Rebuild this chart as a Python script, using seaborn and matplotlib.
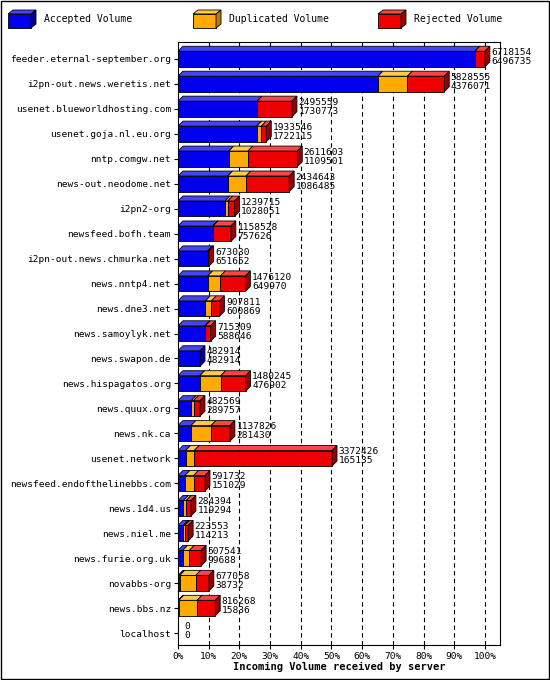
import numpy as np
import pandas as pd
import matplotlib.pyplot as plt
import seaborn as sns
from matplotlib.patches import Polygon, Rectangle

servers = ['feeder.eternal-september.org', 'i2pn-out.news.weretis.net', 'usenet.blueworldhosting.com',
           'usenet.goja.nl.eu.org', 'nntp.comgw.net', 'news-out.neodome.net', 'i2pn2-org',
           'newsfeed.bofh.team', 'i2pn-out.news.chmurka.net', 'news.nntp4.net', 'news.dne3.net',
           'news.samoylyk.net', 'news.swapon.de', 'news.hispagatos.org', 'news.quux.org', 'news.nk.ca',
           'usenet.network', 'newsfeed.endofthelinebbs.com', 'news.1d4.us', 'news.niel.me',
           'news.furie.org.uk', 'novabbs-org', 'news.bbs.nz', 'localhost']
total = [6718154, 5828555, 2495559, 1933546, 2611603, 2434643, 1239715, 1158528, 673030, 1476120,
         907811, 715309, 482914, 1480245, 482569, 1137826, 3372426, 591732, 284394, 223553,
         507541, 677058, 816268, 0]
accepted = [6496735, 4376071, 1730773, 1722115, 1109501, 1086485, 1028051, 757626, 651652, 649970,
            600869, 588646, 482914, 476902, 289757, 281430, 165135, 151029, 119294, 114213,
            99688, 38732, 15836, 0]
duplicated = [0, 645000, 0, 100000, 420000, 400000, 60000, 10000, 5000, 280000,
              130000, 10000, 0, 460000, 50000, 440000, 190000, 190000, 60000, 30000,
              150000, 350000, 400000, 0]

df = pd.DataFrame({'server': servers, 'total': total, 'accepted': accepted, 'duplicated': duplicated})
df['rejected'] = df['total'] - df['accepted'] - df['duplicated']
scale = 100.0 / df['total'].max()

front = {'accepted': '#0000ee', 'duplicated': '#ffaa00', 'rejected': '#ee0000'}
topc = {'accepted': '#4444ff', 'duplicated': '#ffcc44', 'rejected': '#ff4444'}
sidec = {'accepted': '#000099', 'duplicated': '#bb7700', 'rejected': '#990000'}
labels = {'accepted': 'Accepted Volume', 'duplicated': 'Duplicated Volume', 'rejected': 'Rejected Volume'}

plt.rcParams['font.family'] = 'DejaVu Sans Mono'
fig = plt.figure(figsize=(5.5, 6.8), dpi=100)
ax = fig.add_axes([178 / 550, 35 / 680, 322 / 550, 603 / 680])

h = 0.62
dx, dy = 1.6, 0.2
left = np.zeros(len(df))
for key in ['accepted', 'duplicated', 'rejected']:
    w = df[key].values * scale
    sns.barplot(x=w, y=np.arange(len(df)), orient='h', left=left, color=front[key], width=h,
                edgecolor='black', linewidth=0.6, ax=ax, native_scale=True, saturation=1)
    for i, (l, ww) in enumerate(zip(left, w)):
        if ww <= 0:
            continue
        yt = i - h / 2
        ax.add_patch(Polygon([(l, yt), (l + ww, yt), (l + ww + dx, yt - dy), (l + dx, yt - dy)],
                             closed=True, fc=topc[key], ec='black', lw=0.6, zorder=3))
    left = left + w
for i, l in enumerate(left):
    yt, yb = i - h / 2, i + h / 2
    if l > 0:
        ax.add_patch(Polygon([(l, yt), (l + dx, yt - dy), (l + dx, yb - dy), (l, yb)],
                             closed=True, fc=sidec['rejected'] if df['rejected'][i] > 0 else sidec['accepted'],
                             ec='black', lw=0.6, zorder=3))
    ax.text(l + dx + 0.5, i - 0.08, str(df['total'][i]), fontsize=6.8, va='bottom', ha='left')
    ax.text(l + dx + 0.5, i - 0.08, str(df['accepted'][i]), fontsize=6.8, va='top', ha='left')

for x in range(10, 101, 10):
    ax.axvline(x, color='black', ls=(0, (4, 3)), lw=0.8, zorder=0)
ax.set_xlim(0, 104.9)
ax.set_ylim(len(df) - 0.52, -0.68)
ax.set_yticks(range(len(df)))
ax.set_yticklabels(servers, fontsize=6.8)
ax.set_xticks(range(0, 101, 10))
ax.set_xticklabels([f'{x}%' for x in range(0, 101, 10)], fontsize=6.8)
ax.tick_params(length=3, pad=2)
ax.set_xlabel('Incoming Volume received by server', fontsize=7.5, fontweight='bold', labelpad=1)
ax.set_ylabel('')

# legend
for key, x0 in zip(['accepted', 'duplicated', 'rejected'], [8, 193, 378]):
    fx, fy, fw, fh = x0 / 550, 1 - 28 / 680, 28 / 550, 18 / 680
    fig.patches.append(Rectangle((fx, fy), fw - 5 / 550, fh - 4 / 680, transform=fig.transFigure,
                                 fc=front[key], ec='black', lw=0.6))
    fig.patches.append(Polygon([(fx, fy + fh - 4 / 680), (fx + 5 / 550, fy + fh), (fx + fw, fy + fh),
                                (fx + fw - 5 / 550, fy + fh - 4 / 680)], closed=True,
                               transform=fig.transFigure, fc=topc[key], ec='black', lw=0.6))
    fig.patches.append(Polygon([(fx + fw - 5 / 550, fy), (fx + fw, fy + 4 / 680), (fx + fw, fy + fh),
                                (fx + fw - 5 / 550, fy + fh - 4 / 680)], closed=True,
                               transform=fig.transFigure, fc=sidec[key], ec='black', lw=0.6))
    fig.text(fx + fw + 8 / 550, fy + fh / 2, labels[key], fontsize=7, va='center')

fig.patches.append(Rectangle((0.001, 0.001), 0.997, 0.997, transform=fig.transFigure,
                             fill=False, ec='black', lw=1))
fig.savefig('out.png', dpi=100)
